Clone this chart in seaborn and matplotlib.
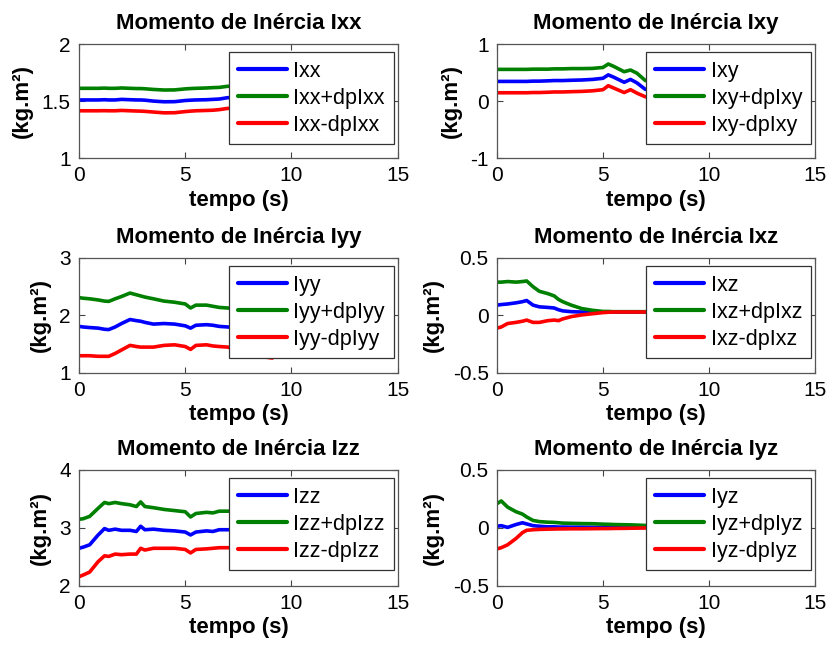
import numpy as np
import pandas as pd
import matplotlib
matplotlib.use("Agg")
import matplotlib.pyplot as plt
import seaborn as sns
from matplotlib.ticker import FuncFormatter

sns.set_style("ticks")
plt.rcParams['font.family'] = ['Liberation Sans', 'DejaVu Sans']
plt.rcParams['axes.unicode_minus'] = False
plt.rcParams['text.color'] = 'black'
plt.rcParams['axes.labelcolor'] = 'black'
plt.rcParams['xtick.color'] = 'black'
plt.rcParams['ytick.color'] = 'black'

# tempo (s)
t = [0, 0.2, 0.5, 0.9, 1.2, 1.4, 1.7, 2.0, 2.4, 2.7, 2.9, 3.1, 3.5,
     4.0, 4.5, 5.0, 5.25, 5.5, 6.0, 6.3, 6.6, 7.0, 7.5, 8.0, 8.5, 9.1]

ixx = [1.51, 1.51, 1.51, 1.51, 1.512, 1.51, 1.51, 1.515, 1.512, 1.51, 1.51, 1.508, 1.50,
       1.494, 1.495, 1.505, 1.508, 1.51, 1.512, 1.515, 1.518, 1.53, 1.53, 1.53, 1.53, 1.53]
ixx_up = [1.612, 1.612, 1.612, 1.612, 1.614, 1.612, 1.612, 1.615, 1.612, 1.61, 1.61, 1.608, 1.602,
          1.597, 1.598, 1.607, 1.61, 1.612, 1.615, 1.618, 1.62, 1.63, 1.63, 1.63, 1.63, 1.63]
ixx_lo = [1.415, 1.415, 1.415, 1.415, 1.416, 1.415, 1.415, 1.418, 1.415, 1.413, 1.412, 1.41, 1.404,
          1.397, 1.398, 1.408, 1.412, 1.415, 1.418, 1.42, 1.425, 1.436, 1.436, 1.436, 1.436, 1.436]

ixy = [0.345, 0.345, 0.345, 0.345, 0.345, 0.345, 0.35, 0.35, 0.355, 0.36, 0.36, 0.36, 0.365,
       0.37, 0.38, 0.40, 0.46, 0.42, 0.33, 0.38, 0.32, 0.205, 0.2, 0.2, 0.2, 0.2]
ixy_up = [0.556, 0.556, 0.556, 0.556, 0.556, 0.556, 0.56, 0.56, 0.56, 0.565, 0.565, 0.565, 0.57,
          0.57, 0.573, 0.59, 0.65, 0.61, 0.515, 0.545, 0.49, 0.36, 0.35, 0.35, 0.35, 0.35]
ixy_lo = [0.146, 0.146, 0.146, 0.146, 0.146, 0.146, 0.15, 0.15, 0.155, 0.16, 0.16, 0.16, 0.165,
          0.17, 0.18, 0.20, 0.27, 0.23, 0.15, 0.20, 0.14, 0.075, 0.07, 0.07, 0.07, 0.07]

iyy = [1.81, 1.80, 1.79, 1.78, 1.76, 1.755, 1.80, 1.86, 1.93, 1.91, 1.90, 1.88, 1.85,
       1.86, 1.85, 1.82, 1.78, 1.83, 1.84, 1.83, 1.81, 1.80, 1.78, 1.75, 1.72, 1.70]
iyy_up = [2.31, 2.30, 2.29, 2.27, 2.25, 2.245, 2.29, 2.33, 2.39, 2.36, 2.34, 2.32, 2.29,
          2.25, 2.23, 2.20, 2.13, 2.18, 2.18, 2.16, 2.14, 2.13, 2.11, 2.08, 2.05, 2.03]
iyy_lo = [1.30, 1.30, 1.30, 1.29, 1.29, 1.29, 1.34, 1.40, 1.48, 1.46, 1.45, 1.45, 1.45,
          1.48, 1.49, 1.46, 1.41, 1.48, 1.49, 1.47, 1.46, 1.45, 1.40, 1.33, 1.29, 1.26]

ixz = [0.09, 0.095, 0.10, 0.11, 0.12, 0.13, 0.09, 0.075, 0.07, 0.065, 0.05, 0.04, 0.033,
       0.03, 0.03, 0.03, 0.03, 0.03, 0.03, 0.03, 0.03, 0.03, 0.03, 0.03, 0.03, 0.03]
ixz_up = [0.29, 0.29, 0.295, 0.29, 0.295, 0.30, 0.25, 0.21, 0.19, 0.17, 0.14, 0.12, 0.09,
          0.06, 0.045, 0.035, 0.035, 0.033, 0.033, 0.033, 0.033, 0.033, 0.033, 0.033, 0.033, 0.033]
ixz_lo = [-0.11, -0.10, -0.07, -0.06, -0.05, -0.04, -0.06, -0.06, -0.045, -0.04, -0.045, -0.03, -0.01,
          0.005, 0.015, 0.025, 0.028, 0.03, 0.03, 0.03, 0.03, 0.03, 0.03, 0.03, 0.03, 0.03]

izz = [2.65, 2.67, 2.71, 2.88, 2.99, 2.96, 2.98, 2.96, 2.96, 2.94, 3.03, 2.97, 2.98,
       2.96, 2.95, 2.93, 2.88, 2.93, 2.95, 2.94, 2.97, 2.97, 2.97, 2.97, 2.97, 2.97]
izz_up = [3.15, 3.16, 3.20, 3.34, 3.44, 3.42, 3.44, 3.42, 3.40, 3.37, 3.45, 3.37, 3.35,
          3.32, 3.30, 3.28, 3.19, 3.25, 3.27, 3.26, 3.29, 3.29, 3.29, 3.29, 3.29, 3.29]
izz_lo = [2.16, 2.19, 2.24, 2.42, 2.52, 2.51, 2.55, 2.54, 2.55, 2.55, 2.65, 2.62, 2.65,
          2.65, 2.65, 2.63, 2.57, 2.63, 2.64, 2.65, 2.66, 2.66, 2.66, 2.66, 2.66, 2.66]

iyz = [0.015, 0.02, 0.005, 0.03, 0.045, 0.035, 0.02, 0.015, 0.01, 0.01, 0.008, 0.008, 0.007,
       0.007, 0.006, 0.006, 0.005, 0.005, 0.005, 0.005, 0.005, 0.005, 0.005, 0.005, 0.005, 0.005]
iyz_up = [0.21, 0.233, 0.18, 0.14, 0.12, 0.095, 0.065, 0.055, 0.05, 0.048, 0.045, 0.042, 0.04,
          0.038, 0.037, 0.033, 0.032, 0.03, 0.028, 0.027, 0.025, 0.022, 0.022, 0.022, 0.022, 0.022]
iyz_lo = [-0.18, -0.17, -0.145, -0.09, -0.04, -0.02, -0.015, -0.012, -0.01, -0.009, -0.008, -0.008, -0.007,
          -0.007, -0.006, -0.005, -0.005, -0.004, -0.003, -0.002, -0.001, 0.0, 0.0, 0.0, 0.0, 0.0]

names = ["Ixx", "Ixy", "Iyy", "Ixz", "Izz", "Iyz"]
series = [(ixx, ixx_up, ixx_lo), (ixy, ixy_up, ixy_lo), (iyy, iyy_up, iyy_lo),
          (ixz, ixz_up, ixz_lo), (izz, izz_up, izz_lo), (iyz, iyz_up, iyz_lo)]
yticks = [[1, 1.5, 2], [-1, 0, 1], [1, 2, 3], [-0.5, 0, 0.5], [2, 3, 4], [-0.5, 0, 0.5]]
xticks = [0, 5, 10, 15]
colors = ["#0000ff", "#008000", "#ff0000"]

# axes boxes in figure fractions (left, bottom, width, height)
boxes = [(0.0952, 0.756, 0.384, 0.176), (0.5988, 0.756, 0.383, 0.176),
         (0.0952, 0.4244, 0.384, 0.1775), (0.5988, 0.4244, 0.383, 0.1775),
         (0.0952, 0.0957, 0.384, 0.179), (0.5988, 0.0957, 0.383, 0.179)]

fig = plt.figure(figsize=(8.3, 6.48), dpi=100)

for name, (mid, up, lo), yt, box in zip(names, series, yticks, boxes):
    ax = fig.add_axes(box)
    labels = [name, name + "+dp" + name, name + "-dp" + name]
    for vals, lab, c in zip((mid, up, lo), labels, colors):
        sns.lineplot(x=t, y=vals, ax=ax, color=c, linewidth=2.6, label=lab)
    ax.set_xlim(0, 15)
    ax.set_ylim(yt[0], yt[-1])
    ax.set_xticks(xticks)
    ax.set_yticks(yt)
    ax.yaxis.set_major_formatter(FuncFormatter(lambda v, p: "{:g}".format(v)))
    ax.tick_params(direction="in", length=4, width=0.8, top=True, right=True,
                   labelsize=15, pad=6, color="#444444")
    for sp in ax.spines.values():
        sp.set_color("#555555")
        sp.set_linewidth(0.9)
    ax.set_title("Momento de Inércia " + name, fontsize=16, fontweight="bold", pad=11)
    ax.set_xlabel("tempo (s)", fontsize=16, fontweight="bold", labelpad=3)
    ax.set_ylabel("(kg.m²)", fontsize=16, fontweight="bold", labelpad=6)
    leg = ax.legend(loc="upper right", bbox_to_anchor=(0.987, 0.93), borderaxespad=0,
                    fontsize=15.5, frameon=True, fancybox=False, framealpha=1,
                    edgecolor="#333333", handlelength=2.3, handletextpad=0.3,
                    labelspacing=0.28, borderpad=0.4)
    leg.get_frame().set_linewidth(0.9)
    for ln in leg.get_lines():
        ln.set_linewidth(3)

fig.savefig("out.png", dpi=100)
